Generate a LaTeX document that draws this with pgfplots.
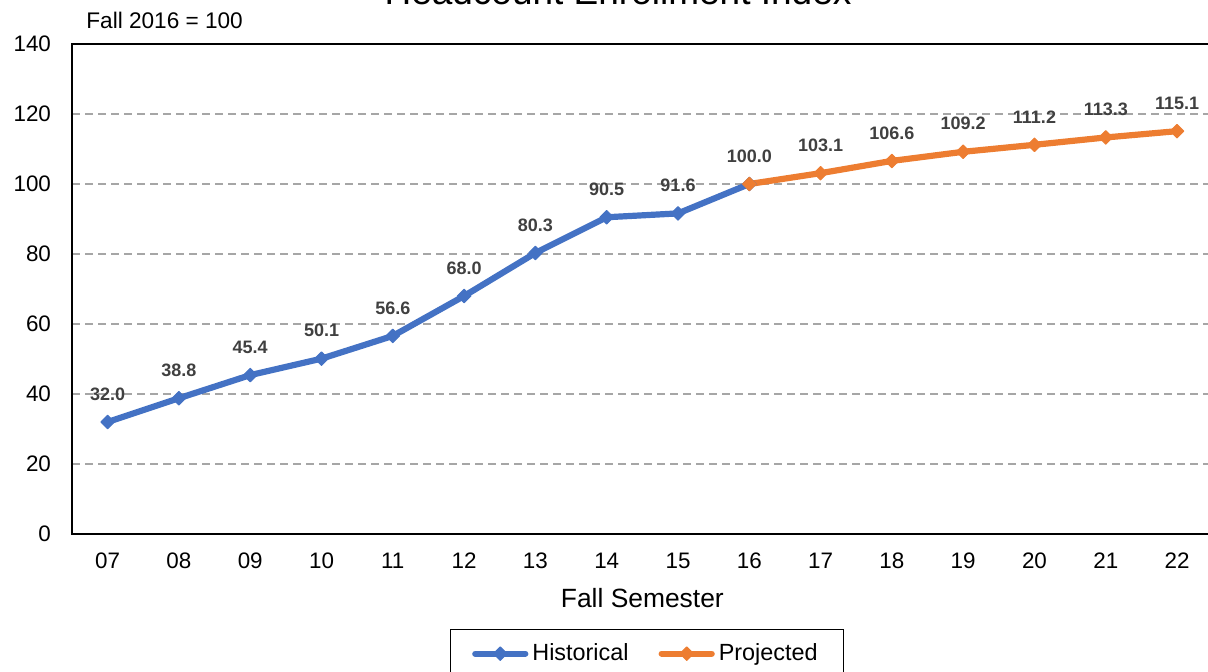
\documentclass[border=0pt]{standalone}
\usepackage{pgfplots}
\pgfplotsset{compat=1.18}
\usepackage{fontspec}
\setmainfont{Liberation Sans}
\definecolor{histblue}{HTML}{4472C4}
\definecolor{projorange}{HTML}{ED7D31}
\definecolor{lblgray}{HTML}{404040}
\definecolor{gridgray}{HTML}{A6A6A6}
\begin{document}
\begin{tikzpicture}
\begin{axis}[
 name=ax,
 scale only axis,
 width=570.35pt, height=245pt,
 xmin=-0.5, xmax=15.5, ymin=0, ymax=140,
 xtick={0,...,15},
 xticklabels={07,08,09,10,11,12,13,14,15,16,17,18,19,20,21,22},
 ytick={0,20,...,140},
 major tick length=0pt,
 ymajorgrids,
 grid style={gridgray, line width=0.65pt, dash pattern=on 4pt off 2.5pt},
 axis line style={black, line width=1pt},
 tick label style={font=\fontsize{11.2}{13}\selectfont},
 /pgf/number format/assume math mode=true,
 yticklabel style={xshift=-7pt},
 xticklabel style={yshift=-6pt},
 xlabel={Fall Semester},
 xlabel style={at={(axis description cs:0.5,0)}, anchor=center, yshift=-32pt, font=\fontsize{13.2}{15}\selectfont},
 legend style={at={(axis description cs:0.504,-0.1939)}, anchor=north, legend columns=2, draw=black, line width=0.65pt, font=\fontsize{11.7}{14}\selectfont, inner xsep=11pt, inner ysep=5pt, /tikz/every even column/.append style={column sep=13pt}},
 legend image code/.code={\draw[mark repeat=2,mark phase=2,#1] plot coordinates {(0pt,0pt) (12.5pt,0pt) (25pt,0pt)};},
 nodes near coords,
 point meta=explicit symbolic,
 every node near coord/.append style={anchor=center, yshift=14pt, font=\bfseries\fontsize{9}{10}\selectfont, text=lblgray},
 clip=false,
]
\addplot[color=histblue, line width=3.1pt, line join=round, line cap=round, mark=square*, mark size=2.4pt, mark options={rotate=45, solid, line width=0.5pt}]
 coordinates {(0,32.0)[32.0] (1,38.8)[38.8] (2,45.4)[45.4] (3,50.1)[50.1] (4,56.6)[56.6] (5,68.0)[68.0] (6,80.3)[80.3] (7,90.5)[90.5] (8,91.6)[91.6] (9,100.0)[]};
\addlegendentry{Historical}
\addplot[color=projorange, line width=3.1pt, line join=round, line cap=round, mark=square*, mark size=2.4pt, mark options={rotate=45, solid, line width=0.5pt}]
 coordinates {(9,100.0)[100.0] (10,103.1)[103.1] (11,106.6)[106.6] (12,109.2)[109.2] (13,111.2)[111.2] (14,113.3)[113.3] (15,115.1)[115.1]};
\addlegendentry{Projected}
\end{axis}
\node[anchor=base west, inner sep=0, font=\fontsize{11.3}{13}\selectfont] at ([shift={(7pt,7.5pt)}]ax.north west) {Fall 2016 = 100};
\node[anchor=base, inner sep=0, font=\fontsize{18.5}{22}\selectfont] at ([shift={(273pt,19.5pt)}]ax.north west) {Headcount Enrollment Index};
\pgfresetboundingbox
\path ([shift={(-36pt,-68.5pt)}]ax.south west) rectangle ([shift={(568pt,22pt)}]ax.north west);
\end{tikzpicture}
\end{document}
